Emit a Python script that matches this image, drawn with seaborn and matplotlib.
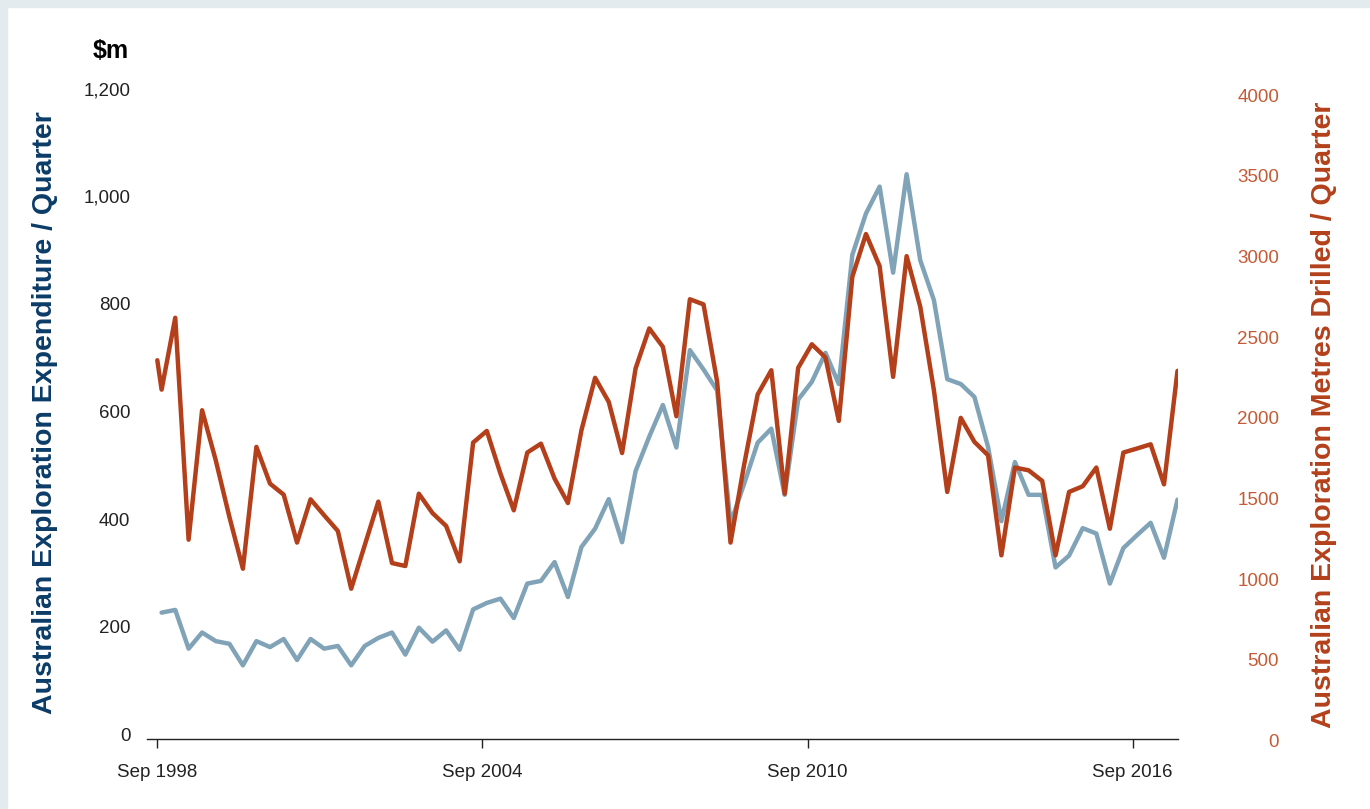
import numpy as np
import pandas as pd
import matplotlib
matplotlib.use("Agg")
import matplotlib.pyplot as plt
import matplotlib.dates as mdates
import matplotlib.transforms as mtransforms
from matplotlib.patches import Rectangle
import seaborn as sns

# ---------------- data ----------------
n_quarters = 76
quarter_dates = pd.period_range("1998Q3", periods=n_quarters, freq="Q").to_timestamp(how="start") + pd.offsets.MonthEnd(3)

expenditure = [
    234, 239, 167, 197, 181, 176, 136, 181, 170, 185,
    146, 185, 167, 172, 136, 172, 187, 197, 156, 206,
    180, 201, 165, 240, 252, 260, 224, 288, 293, 328,
    263, 356, 390, 445, 365, 497, 561, 620, 541, 722,
    686, 647, 400, 473, 550, 576, 453, 630, 663, 717,
    659, 899, 976, 1026, 866, 1049, 889, 815, 668, 659,
    635, 542, 404, 514, 453, 453, 318, 340, 391, 381,
    288, 354, 378, 401, 336, 444,
]

metres_first_date = ["1998-09-01"]
metres_first_value = [2344]
metres = [
    2162, 2607, 1232, 2034, 1724, 1373, 1052, 1807, 1579, 1511,
    1214, 1482, 1383, 1286, 928, 1197, 1468, 1087, 1069, 1517,
    1397, 1317, 1098, 1834, 1906, 1642, 1414, 1772, 1827, 1610,
    1459, 1910, 2235, 2086, 1769, 2293, 2541, 2427, 1997, 2722,
    2690, 2210, 1214, 1693, 2132, 2282, 1517, 2297, 2443, 2361,
    1968, 2861, 3126, 2927, 2241, 2989, 2675, 2158, 1528, 1987,
    1838, 1755, 1135, 1679, 1662, 1596, 1135, 1528, 1563, 1679,
    1300, 1772, 1797, 1823, 1575, 2278,
]

x_tick_dates = ["1998-09-01", "2004-09-01", "2010-09-01", "2016-09-01"]
x_tick_labels = ["Sep 1998", "Sep 2004", "Sep 2010", "Sep 2016"]
left_ticks = [0, 200, 400, 600, 800, 1000, 1200]
left_tick_labels = ["0", "200", "400", "600", "800", "1,000", "1,200"]
right_ticks = [0, 500, 1000, 1500, 2000, 2500, 3000, 3500, 4000]
right_tick_labels = ["0", "500", "1000", "1500", "2000", "2500", "3000", "3500", "4000"]

df_exp = pd.DataFrame({"date": quarter_dates, "value": expenditure})
df_met = pd.DataFrame({
    "date": list(pd.to_datetime(metres_first_date)) + list(quarter_dates),
    "value": metres_first_value + metres,
})

# ---------------- style ----------------
sns.set_style("white")
plt.rcParams["font.family"] = ["Liberation Sans", "DejaVu Sans"]

BLUE = "#81a3b8"
RED = "#b3401b"
NAVY = "#0b3c68"
RED_TXT = "#b3401b"
RED_TICK = "#c45b36"

W, H = 1370, 809
fig = plt.figure(figsize=(W / 100, H / 100), dpi=100)
fig.patch.set_facecolor("white")
strip = "#e3ebee"
fig.patches.append(Rectangle((0, 1 - 7 / H), 1, 7 / H, transform=fig.transFigure, color=strip, zorder=0))
fig.patches.append(Rectangle((0, 0), 7 / W, 1, transform=fig.transFigure, color=strip, zorder=0))

# axes geometry in pixels
d0 = mdates.date2num(pd.Timestamp(x_tick_dates[0]))
d1 = mdates.date2num(pd.Timestamp(x_tick_dates[-1]))
px0, px1 = 157.3, 1132.7
s = (px1 - px0) / (d1 - d0)
left_px = 147.0
xlim0 = d0 - (px0 - left_px) / s
xlim1 = mdates.date2num(pd.Timestamp("2017-07-01"))
right_px = px0 + (xlim1 - d0) * s
bot_px, top_px = 738.5, 93.0

ax = fig.add_axes([left_px / W, (H - bot_px) / H, (right_px - left_px) / W, (bot_px - top_px) / H])
ax.set_facecolor("none")
ax2 = ax.twinx()

sns.lineplot(data=df_exp, x="date", y="value", ax=ax, color=BLUE, linewidth=3.2)
sns.lineplot(data=df_met, x="date", y="value", ax=ax2, color=RED, linewidth=3.2)

for a in (ax, ax2):
    a.set_xlabel("")
    a.set_ylabel("")
    for sp in ("left", "right", "top"):
        a.spines[sp].set_visible(False)
ax2.spines["bottom"].set_visible(False)
ax.spines["bottom"].set_color("#222222")
ax.spines["bottom"].set_linewidth(1.0)

ax.set_xlim(xlim0, xlim1)
ax.set_xticks([mdates.date2num(pd.Timestamp(d)) for d in x_tick_dates])
ax.set_xticklabels(x_tick_labels)
ax.tick_params(axis="x", bottom=True, length=6.5, width=1.0, color="#222222", direction="out",
               pad=12, labelsize=13.5, labelcolor="#222222")

ax.set_ylim(0, 1200)
ax.set_yticks(left_ticks)
ax.set_yticklabels(left_tick_labels)
ax.tick_params(axis="y", left=False, length=0, pad=12, labelsize=13.5, labelcolor="#222222")

ax2.set_ylim(0, 4000)
ax2.set_yticks(right_ticks)
ax2.set_yticklabels(right_tick_labels)
ax2.tick_params(axis="y", right=False, length=0, pad=73, labelsize=13.5, labelcolor=RED_TICK)
for t in ax2.yaxis.get_major_ticks():
    t.label2.set_horizontalalignment("right")
ax2.grid(False)
ax.grid(False)

# small vertical offsets of tick labels as in the reference
up = mtransforms.ScaledTranslation(0, 3 / 72, fig.dpi_scale_trans)
down = mtransforms.ScaledTranslation(0, -1.5 / 72, fig.dpi_scale_trans)
for lab in ax.get_yticklabels():
    lab.set_transform(lab.get_transform() + up)
for lab in ax2.get_yticklabels():
    lab.set_transform(lab.get_transform() + down)

fig.text(111 / W, 1 - 51 / H, "$m", fontsize=18, fontweight="bold", color="black", ha="center", va="center")
fig.text(45 / W, 1 - 413 / H, "Australian Exploration Expenditure / Quarter", rotation=90,
         fontsize=20.5, fontweight="bold", color=NAVY, ha="center", va="center")
fig.text(1324 / W, 1 - 415 / H, "Australian Exploration Metres Drilled / Quarter", rotation=90,
         fontsize=20.5, fontweight="bold", color=RED_TXT, ha="center", va="center")

fig.savefig("out.png", dpi=100, facecolor=fig.get_facecolor())
